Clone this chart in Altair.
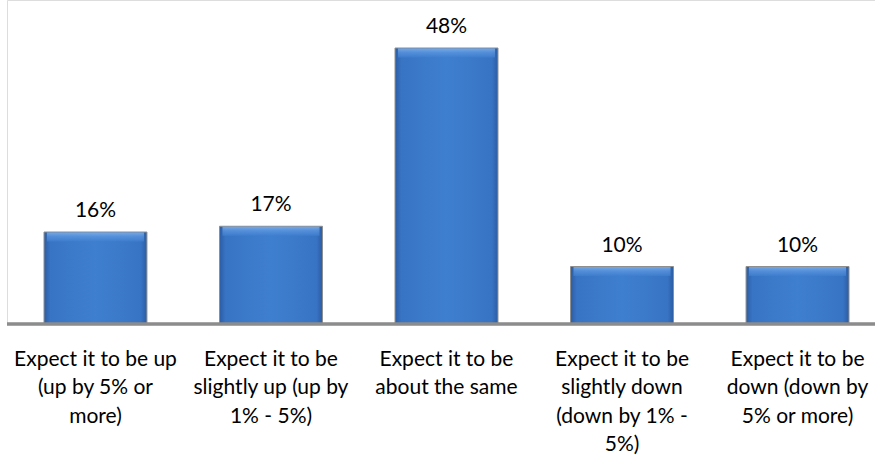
import altair as alt
import pandas as pd

# Survey answers, left to right
categories = [
    "Expect it to be up|(up by 5% or|more)",
    "Expect it to be|slightly up (up by|1% - 5%)",
    "Expect it to be|about the same",
    "Expect it to be|slightly down|(down by 1% -|5%)",
    "Expect it to be|down (down by|5% or more)",
]
values = [16, 17, 48, 10, 10]

df = pd.DataFrame({"category": categories, "value": values})

FONT = "Lato"
FS = 21

# Bar fill: darker edges, lighter middle for a bevelled look
side_gradient = alt.Gradient(
    gradient="linear",
    x1=0, x2=1, y1=0, y2=0,
    stops=[
        alt.GradientStop(color="#2b5da3", offset=0),
        alt.GradientStop(color="#3874c4", offset=0.06),
        alt.GradientStop(color="#3f7fcf", offset=0.5),
        alt.GradientStop(color="#3874c4", offset=0.94),
        alt.GradientStop(color="#2b5da3", offset=1),
    ],
)
# Soft highlight along the top edge of each bar
top_gradient = alt.Gradient(
    gradient="linear",
    x1=0, x2=0, y1=0, y2=1,
    stops=[
        alt.GradientStop(color="#8cbcf2", offset=0),
        alt.GradientStop(color="#5e98e0", offset=0.45),
        alt.GradientStop(color="#3f7fcf", offset=1),
    ],
)

x_enc = alt.X(
    "category:N",
    sort=categories,
    scale=alt.Scale(range=[37, 842], paddingInner=0.4135, paddingOuter=0),
    axis=alt.Axis(
        title=None,
        labelExpr="split(datum.label, '|')",
        labelAngle=0,
        ticks=False,
        tickSize=0,
        domain=False,
        labelFont=FONT,
        labelFontSize=FS,
        labelColor="#000000",
        labelLineHeight=28.5,
        labelPadding=24,
        labelBaseline="top",
        labelLimit=0,
        labelOverlap=False,
    ),
)
y_enc = alt.Y("value:Q", scale=alt.Scale(domain=[0, 56.35], nice=False), axis=None)

base = alt.Chart(df).encode(x=x_enc, y=y_enc)

bars = base.mark_bar(color=side_gradient, stroke="#8f8f8f", strokeWidth=1)

top_edge = base.mark_tick(color=top_gradient, thickness=9, size=97, yOffset=5)

value_labels = base.transform_calculate(
    label="datum.value + '%'"
).mark_text(
    baseline="alphabetic", dy=-15, font=FONT, fontSize=FS, color="#000000"
).encode(text="label:N")

baseline = alt.Chart(df).mark_rule(color="#8c8c8c", strokeWidth=2.5).encode(
    x=alt.value(0), x2=alt.value(868), y=alt.value(324)
)

chart = (
    alt.layer(bars, top_edge, baseline, value_labels)
    .properties(
        width=868,
        height=324,
        autosize=alt.AutoSizeParams(type="none"),
        padding={"left": 7, "top": 0, "right": 0, "bottom": 131},
    )
    .configure_view(stroke=None)
    .configure(background="#ffffff")
)

chart.save("out.html", embed_options={"renderer": "svg", "actions": False})
